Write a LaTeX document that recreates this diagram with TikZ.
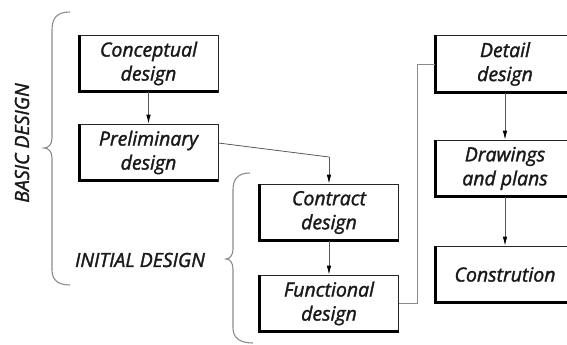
\documentclass[tikz,border=0pt]{standalone}
\usepackage{fontspec}
\setmainfont{Open Sans}[ItalicFeatures={FakeBold=1.6}]
\usetikzlibrary{arrows.meta,calc}
\begin{document}
\begin{tikzpicture}[x=1pt,y=-1pt,
  stepbox/.style={draw=black!85, line width=0.7pt, minimum width=139pt, minimum height=57pt,
    inner sep=0pt, align=center, font=\fontsize{19.5}{24}\selectfont\itshape, text=black!90},
  conn/.style={draw=black!65, line width=0.8pt},
  arr/.style={conn, -{Latex[length=9pt,width=4.5pt,color=black]}},
  bracestyle/.style={draw=black!45, line width=1.1pt},
  lbl/.style={font=\fontsize{19.5}{22}\selectfont\itshape, text=black!90, inner sep=0pt}]
\useasboundingbox (0,0) rectangle (567,345);
\clip (0,0) rectangle (567,345);

\node[stepbox] (concept) at (148.5,63.5) {Conceptual\\design};
\node[stepbox] (prelim)  at (148.5,152.5) {Preliminary\\design};
\node[stepbox] (contract) at (329,212.5) {Contract\\design};
\node[stepbox] (func)    at (329,303.5) {Functional\\design};
\node[stepbox] (detail)  at (505,64) {Detail\\design};
\node[stepbox] (draw)    at (505,168.5) {Drawings\\and plans};
\node[stepbox] (constr)  at (505,274.5) {Constrution};

\foreach \n in {concept,prelim,contract,func,detail,draw,constr}{
  \draw[line width=2.6pt, black] ([xshift=0.6pt]\n.north west) -- ([xshift=0.6pt,yshift=0.6pt]\n.south west) -- ([yshift=0.6pt]\n.south east);
}

\coordinate (k1) at (329,157);
\draw[arr] (concept.south) -- (prelim.north);
\draw[conn] ([yshift=9.5pt]prelim.east) -- (k1);
\draw[arr] (k1) -- (contract.north);
\draw[arr] (contract.south) -- (func.north);
\draw[conn, draw=black!45] (func.east) -- ++(19,0) |- (detail.west);
\draw[arr] (detail.south) -- (draw.north);
\draw[arr] (draw.south) -- (constr.north);

% braces
\draw[bracestyle] (70,12) .. controls (57,12) and (52,18) .. (52,30) -- (52,138)
  .. controls (52,145) and (48,148) .. (44,148)
  .. controls (48,148) and (52,151) .. (52,158) -- (52,270)
  .. controls (52,280) and (58,285) .. (70,285);
\draw[bracestyle] (250,173) .. controls (238,173) and (233,179) .. (233,190) -- (233,249)
  .. controls (233,255) and (230,259) .. (226,259)
  .. controls (230,259) and (233,263) .. (233,269) -- (233,328)
  .. controls (233,338) and (240,343) .. (253,343);

\node[lbl, rotate=90] (basic) at (22,143) {BASIC DESIGN};
\node[lbl] (initial) at (140,260) {INITIAL DESIGN};
\end{tikzpicture}
\end{document}
